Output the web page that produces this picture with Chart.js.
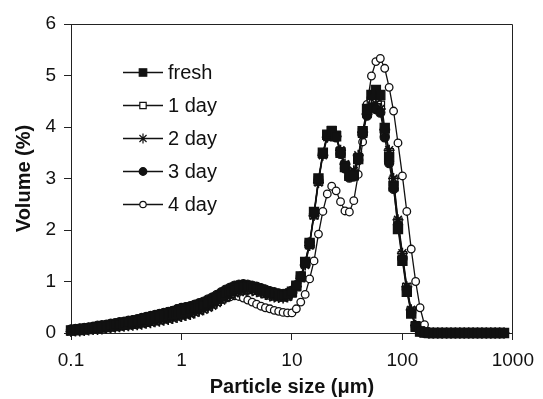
<!DOCTYPE html>
<html>
<head>
<meta charset="utf-8">
<script src="https://cdn.jsdelivr.net/npm/chart.js@4.4.0/dist/chart.umd.min.js"></script>
<style>
  html, body { margin: 0; padding: 0; background: #fff; }
  #wrap { width: 543px; height: 399px; }
</style>
</head>
<body>
<div id="wrap"><canvas id="psd" width="543" height="399"></canvas></div>
<script>
// particle size classes (um), log spaced
const sizes = [
  0.1, 0.1096, 0.1202, 0.1318, 0.1445, 0.1585, 0.1738, 0.1905, 0.2089, 0.2291, 0.2512, 0.2754, 0.302, 0.3311, 0.3631, 0.3981, 0.4365, 0.4786, 0.5248, 0.5754, 0.631, 0.6918, 0.7586, 0.8318, 0.912,
  1, 1.096, 1.202, 1.318, 1.445, 1.585, 1.738, 1.905, 2.089, 2.291, 2.512, 2.754, 3.02, 3.311, 3.631, 3.981, 4.365, 4.786, 5.248, 5.754, 6.31, 6.918, 7.586, 8.318, 9.12,
  10, 10.96, 12.02, 13.18, 14.45, 15.85, 17.38, 19.05, 20.89, 22.91, 25.12, 27.54, 30.2, 33.11, 36.31, 39.81, 43.65, 47.86, 52.48, 57.54, 63.1, 69.18, 75.86, 83.18, 91.2,
  100, 109.6, 120.2, 131.8, 144.5, 158.5, 173.8, 190.5, 208.9, 229.1, 251.2, 275.4, 302, 331.1, 363.1, 398.1, 436.5, 478.6, 524.8, 575.4, 631, 691.8, 758.6, 831.8
];

const fresh = [
  0.05, 0.06, 0.07, 0.08, 0.09, 0.10, 0.11, 0.12, 0.13, 0.14, 0.16, 0.17, 0.18, 0.20, 0.21, 0.22, 0.24, 0.26, 0.27, 0.29, 0.31, 0.33, 0.35, 0.37, 0.39,
  0.41, 0.43, 0.45, 0.47, 0.50, 0.53, 0.57, 0.61, 0.66, 0.71, 0.76, 0.81, 0.85, 0.88, 0.90, 0.90, 0.89, 0.87, 0.84, 0.81, 0.78, 0.76, 0.74, 0.73, 0.75,
  0.80, 0.92, 1.10, 1.38, 1.75, 2.35, 3.00, 3.50, 3.85, 3.92, 3.82, 3.50, 3.22, 3.05, 3.06, 3.38, 3.92, 4.35, 4.62, 4.72, 4.62, 3.98, 3.42, 2.85, 2.02,
  1.40, 0.80, 0.38, 0.12, 0.03, 0.01, 0, 0, 0, 0, 0, 0, 0, 0, 0, 0, 0, 0, 0, 0, 0, 0, 0, 0
];
const day1 = [
  0.04, 0.05, 0.05, 0.06, 0.07, 0.08, 0.09, 0.10, 0.11, 0.12, 0.13, 0.14, 0.15, 0.16, 0.17, 0.18, 0.20, 0.21, 0.23, 0.24, 0.26, 0.28, 0.30, 0.32, 0.34,
  0.36, 0.38, 0.40, 0.43, 0.46, 0.49, 0.53, 0.57, 0.62, 0.67, 0.72, 0.77, 0.81, 0.84, 0.86, 0.86, 0.85, 0.83, 0.80, 0.77, 0.74, 0.72, 0.71, 0.70, 0.72,
  0.78, 0.90, 1.08, 1.35, 1.72, 2.30, 2.95, 3.48, 3.84, 3.93, 3.84, 3.52, 3.25, 3.08, 3.10, 3.40, 3.88, 4.28, 4.50, 4.55, 4.42, 3.90, 3.50, 2.95, 2.15,
  1.50, 0.88, 0.42, 0.14, 0.03, 0.01, 0, 0, 0, 0, 0, 0, 0, 0, 0, 0, 0, 0, 0, 0, 0, 0, 0, 0
];
const day2 = [
  0.03, 0.04, 0.04, 0.05, 0.06, 0.07, 0.07, 0.08, 0.09, 0.10, 0.11, 0.12, 0.13, 0.14, 0.15, 0.16, 0.17, 0.19, 0.20, 0.22, 0.23, 0.25, 0.26, 0.28, 0.30,
  0.32, 0.34, 0.36, 0.39, 0.42, 0.45, 0.49, 0.53, 0.58, 0.63, 0.68, 0.73, 0.77, 0.80, 0.82, 0.83, 0.82, 0.80, 0.78, 0.75, 0.72, 0.70, 0.69, 0.68, 0.70,
  0.78, 0.90, 1.06, 1.32, 1.70, 2.28, 2.92, 3.45, 3.80, 3.90, 3.82, 3.55, 3.28, 3.12, 3.15, 3.45, 3.90, 4.25, 4.42, 4.45, 4.35, 3.95, 3.55, 3.00, 2.20,
  1.55, 0.90, 0.45, 0.15, 0.04, 0.01, 0, 0, 0, 0, 0, 0, 0, 0, 0, 0, 0, 0, 0, 0, 0, 0, 0, 0
];
const day3 = [
  0.07, 0.08, 0.09, 0.10, 0.11, 0.12, 0.14, 0.15, 0.16, 0.18, 0.19, 0.21, 0.22, 0.24, 0.25, 0.27, 0.29, 0.31, 0.33, 0.35, 0.37, 0.39, 0.41, 0.43, 0.46,
  0.48, 0.50, 0.52, 0.55, 0.58, 0.61, 0.65, 0.69, 0.74, 0.79, 0.84, 0.88, 0.92, 0.94, 0.95, 0.94, 0.92, 0.90, 0.87, 0.84, 0.81, 0.79, 0.77, 0.76, 0.78,
  0.82, 0.93, 1.10, 1.38, 1.76, 2.32, 2.96, 3.48, 3.82, 3.90, 3.80, 3.48, 3.20, 3.02, 3.04, 3.36, 3.86, 4.22, 4.38, 4.35, 4.28, 3.80, 3.30, 2.80, 2.10,
  1.45, 0.85, 0.40, 0.13, 0.03, 0.01, 0, 0, 0, 0, 0, 0, 0, 0, 0, 0, 0, 0, 0, 0, 0, 0, 0, 0
];
const day4 = [
  0.06, 0.07, 0.08, 0.09, 0.11, 0.12, 0.13, 0.15, 0.16, 0.18, 0.19, 0.21, 0.22, 0.24, 0.26, 0.27, 0.29, 0.31, 0.33, 0.35, 0.37, 0.39, 0.42, 0.44, 0.47,
  0.50, 0.51, 0.52, 0.53, 0.54, 0.55, 0.57, 0.59, 0.62, 0.65, 0.68, 0.70, 0.72, 0.71, 0.68, 0.64, 0.60, 0.56, 0.52, 0.49, 0.47, 0.44, 0.42, 0.40, 0.39,
  0.39, 0.47, 0.60, 0.75, 1.05, 1.40, 1.92, 2.36, 2.70, 2.85, 2.76, 2.55, 2.37, 2.35, 2.57, 3.08, 3.71, 4.44, 4.99, 5.27, 5.33, 5.14, 4.77, 4.31, 3.69,
  3.05, 2.36, 1.63, 1.00, 0.49, 0.16, 0.02, 0, 0, 0, 0, 0, 0, 0, 0, 0, 0, 0, 0, 0, 0, 0, 0, 0
];

const seriesNames = ['fresh', '1 day', '2 day', '3 day', '4 day'];
const xTicks = [0.1, 1, 10, 100, 1000];
const yTicks = [0, 1, 2, 3, 4, 5, 6];

const FONT = '"Liberation Sans", Arial, Helvetica, sans-serif';
const INK = '#111';

function pts(vals) {
    return sizes.map((s, i) => ({ x: s, y: vals[i] }));
}

// marker looks per series (legend uses the smaller size); higher order is drawn first
const looks = [
    { pointStyle: 'rect', pointRadius: 6.5, legendRadius: 5.3, fill: INK, bw: 1.2, order: 1 },
    { pointStyle: 'rect', pointRadius: 6, legendRadius: 4.5, fill: '#fff', bw: 1.2, order: 4 },
    { pointStyle: 'star', pointRadius: 5.5, legendRadius: 5, fill: INK, bw: 1.6, order: 3 },
    { pointStyle: 'circle', pointRadius: 4.6, legendRadius: 3.8, fill: INK, bw: 1.2, order: 2 },
    { pointStyle: 'circle', pointRadius: 3.8, legendRadius: 3.2, fill: '#fff', bw: 1.3, order: 5 },
];

const allSeries = [fresh, day1, day2, day3, day4];
const datasets = allSeries.map((vals, k) => ({
    label: seriesNames[k],
    data: pts(vals),
    borderColor: INK,
    borderWidth: 1.3,
    pointStyle: looks[k].pointStyle,
    pointRadius: looks[k].pointRadius,
    pointBackgroundColor: looks[k].fill,
    pointBorderColor: INK,
    pointBorderWidth: looks[k].bw,
    order: looks[k].order,
    clip: false,
}));

// legend drawn inside the plot, top-left
const insideLegend = {
    id: 'insideLegend',
    afterDraw(chart) {
        const ctx = chart.ctx;
        const x0 = 123, x1 = 163, tx = 168;
        ctx.save();
        chart.data.datasets.forEach((ds, i) => {
            const y = 72 + i * 33;
            ctx.strokeStyle = INK;
            ctx.lineWidth = 1.3;
            ctx.beginPath();
            ctx.moveTo(x0, y + 0.5);
            ctx.lineTo(x1, y + 0.5);
            ctx.stroke();
            ctx.fillStyle = ds.pointBackgroundColor;
            ctx.strokeStyle = INK;
            ctx.lineWidth = 1.2;
            Chart.helpers.drawPoint(ctx, {
                pointStyle: ds.pointStyle,
                radius: looks[i].legendRadius,
                rotation: 0,
                borderWidth: 1.2
            }, (x0 + x1) / 2, y + 0.5);
            ctx.fillStyle = INK;
            ctx.font = '20px ' + FONT;
            ctx.textBaseline = 'middle';
            ctx.textAlign = 'left';
            ctx.fillText(ds.label, tx, y + 1);
        });
        ctx.restore();
    }
};

// closes the frame on top and right
const frame = {
    id: 'frame',
    beforeDatasetsDraw(chart) {
        const a = chart.chartArea;
        const ctx = chart.ctx;
        ctx.save();
        ctx.strokeStyle = '#222';
        ctx.lineWidth = 1;
        ctx.beginPath();
        ctx.moveTo(Math.round(a.left) + 0.5, Math.round(a.top) + 0.5);
        ctx.lineTo(Math.round(a.right) - 0.5, Math.round(a.top) + 0.5);
        ctx.lineTo(Math.round(a.right) - 0.5, Math.round(a.bottom));
        ctx.stroke();
        ctx.restore();
    }
};

new Chart(document.getElementById('psd').getContext('2d'), {
    type: 'line',
    data: { datasets: datasets },
    options: {
        responsive: false,
        animation: false,
        devicePixelRatio: 1,
        layout: { padding: { left: 0, top: 24, right: 26, bottom: 0 } },
        plugins: {
            legend: { display: false },
            tooltip: { enabled: false },
        },
        scales: {
            x: {
                type: 'logarithmic',
                min: 0.1,
                max: 1000,
                afterBuildTicks: (scale) => {
                    scale.ticks = xTicks.map((v) => ({ value: v }));
                },
                afterFit: (scale) => { scale.height = 66; },
                grid: { drawOnChartArea: false, drawTicks: true, tickLength: 7, color: '#222' },
                border: { display: true, color: '#222', width: 1 },
                ticks: {
                    autoSkip: false,
                    maxRotation: 0,
                    padding: 9,
                    color: INK,
                    font: { family: FONT, size: 19 },
                    callback: (v) => String(v),
                },
                title: {
                    display: true,
                    text: 'Particle size (μm)',
                    color: INK,
                    font: { family: FONT, size: 20, weight: 'bold' },
                    padding: { top: 0, bottom: 0 },
                },
            },
            y: {
                min: 0,
                max: 6,
                afterBuildTicks: (scale) => {
                    scale.ticks = yTicks.map((v) => ({ value: v }));
                },
                afterFit: (scale) => { scale.width = 71; },
                grid: { drawOnChartArea: false, drawTicks: true, tickLength: 7, color: '#222' },
                border: { display: true, color: '#222', width: 1 },
                ticks: {
                    padding: 8,
                    color: INK,
                    font: { family: FONT, size: 19 },
                    callback: (v) => String(v),
                },
                title: {
                    display: true,
                    text: 'Volume (%)',
                    color: INK,
                    font: { family: FONT, size: 20, weight: 'bold' },
                    padding: { top: 12, bottom: 0 },
                },
            },
        },
    },
    plugins: [frame, insideLegend],
});
</script>
</body>
</html>
